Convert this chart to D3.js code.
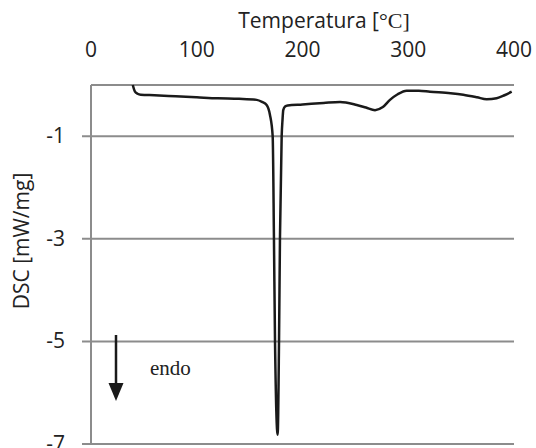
<!DOCTYPE html>
<html>
<head>
<meta charset="utf-8">
<script src="https://d3js.org/d3.v7.min.js"></script>
<style>
  body { margin: 0; background: #fff; }
  svg { display: block; }
  .lbl { font-family: "Open Sans", sans-serif; font-size: 21px; fill: #222; }
</style>
</head>
<body>
<svg id="chart" width="536" height="448"></svg>
<script>
// DSC curve: temperature [°C] and heat flow [mW/mg]
const temps = [39.5, 41.6, 44, 47, 60, 80, 100, 120, 140, 156.7, 161.7, 166.1, 169.2, 171.8, 173, 174, 176.5,
               177.8, 178.7, 180.3, 181.1, 181.8, 183.5, 186, 200, 220, 235.5, 251.3, 260, 268.6, 276, 282.7,
               290, 298.5, 310, 320.6, 340, 352, 365, 374.2, 383.6, 391, 397.8];
const dsc   = [0.0, -0.13, -0.17, -0.19, -0.2, -0.22, -0.24, -0.26, -0.27, -0.29, -0.33, -0.39, -0.58, -1.0, -2.98, -4.99, -6.82,
               -4.99, -2.98, -1.0, -0.68, -0.49, -0.42, -0.40, -0.38, -0.35, -0.33, -0.39, -0.44, -0.49, -0.43, -0.29,
               -0.18, -0.11, -0.11, -0.13, -0.16, -0.19, -0.24, -0.28, -0.26, -0.2, -0.13];
const xTicks = [0, 100, 200, 300, 400];
const yTicks = [-1, -3, -5, -7];

const svg = d3.select("#chart");
const m = { left: 91, right: 514, top: 85, bottom: 444 };

const x = d3.scaleLinear().domain([0, 400]).range([m.left, m.right]);
const y = d3.scaleLinear().domain([0, -7]).range([m.top, m.bottom]);

const grid = "#8c8c8c";

// horizontal gridlines with short outside ticks
svg.append("g").selectAll("line")
  .data(yTicks)
  .join("line")
  .attr("x1", m.left - 9).attr("x2", m.right)
  .attr("y1", d => y(d)).attr("y2", d => y(d))
  .attr("stroke", grid).attr("stroke-width", 2);

// top line (value axis max) and left axis
svg.append("line")
  .attr("x1", m.left).attr("x2", m.right).attr("y1", y(0)).attr("y2", y(0))
  .attr("stroke", grid).attr("stroke-width", 2);
svg.append("line")
  .attr("x1", m.left).attr("x2", m.left).attr("y1", y(0)).attr("y2", y(-7))
  .attr("stroke", grid).attr("stroke-width", 2);

// tick labels
svg.append("g").selectAll("text")
  .data(xTicks)
  .join("text")
  .attr("class", "lbl")
  .attr("x", d => x(d)).attr("y", 57)
  .attr("text-anchor", "middle")
  .text(d => d);

svg.append("g").selectAll("text")
  .data(yTicks)
  .join("text")
  .attr("class", "lbl")
  .attr("x", 65).attr("y", d => y(d) + 7)
  .attr("text-anchor", "end")
  .text(d => d);

// axis titles
const tt = svg.append("text")
  .attr("class", "lbl")
  .attr("x", 324).attr("y", 28)
  .attr("text-anchor", "middle");
tt.append("tspan").text("Temperatura [");
tt.append("tspan").attr("font-family", "'Liberation Serif', serif").attr("font-size", 22).text("°C]");

svg.append("text")
  .attr("class", "lbl")
  .attr("transform", "translate(29,241) rotate(-90)")
  .attr("text-anchor", "middle")
  .text("DSC [mW/mg]");

// curve
const pts = temps.map((t, i) => [t, dsc[i]]);
svg.append("path")
  .datum(pts)
  .attr("fill", "none")
  .attr("stroke", "#1a1a1a")
  .attr("stroke-width", 2.5)
  .attr("stroke-linejoin", "round")
  .attr("d", d3.line().x(d => x(d[0])).y(d => y(d[1])).curve(d3.curveMonotoneX));

// endo arrow
svg.append("line")
  .attr("x1", 116).attr("x2", 116).attr("y1", 335).attr("y2", 386)
  .attr("stroke", "#1a1a1a").attr("stroke-width", 2.5);
svg.append("path")
  .attr("d", "M108.5,383 L123.5,383 L116,401 Z")
  .attr("fill", "#1a1a1a");
svg.append("text")
  .attr("x", 150).attr("y", 375)
  .attr("font-family", "'Liberation Serif', serif")
  .attr("font-size", 21)
  .attr("fill", "#222")
  .text("endo");
</script>
</body>
</html>
